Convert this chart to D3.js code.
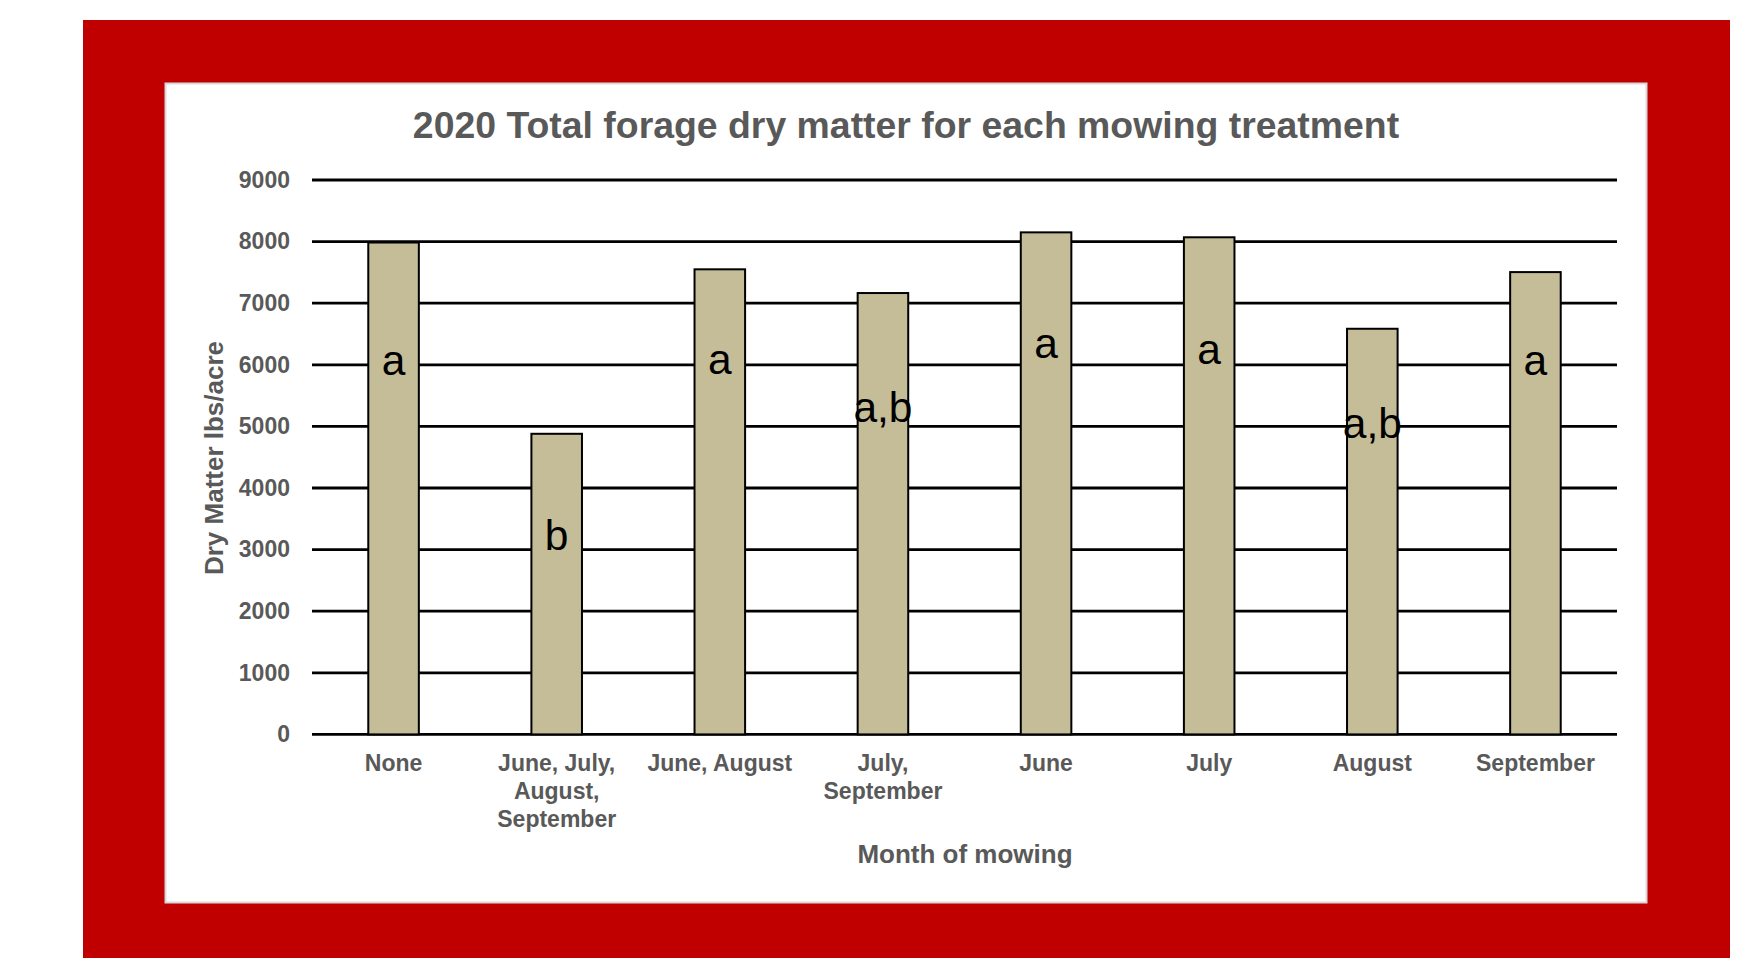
<!DOCTYPE html>
<html>
<head>
<meta charset="utf-8">
<script src="https://cdn.jsdelivr.net/npm/d3@7"></script>
<style>
  body { margin: 0; background: #fff; }
  text { font-family: "Liberation Sans", Arial, sans-serif; }
</style>
</head>
<body>
<svg id="mount" width="1759" height="958"></svg>
<script>
var colorFrame = "#C00000";
var colorBar = "#C4BD97";
var colorText = "#595959";

var categories = [
  "None",
  "June, July, August, September",
  "June, August",
  "July, September",
  "June",
  "July",
  "August",
  "September"
];
var dryMatter = [7985, 4880, 7550, 7165, 8150, 8070, 6585, 7505];
var letters = ["a", "b", "a", "a,b", "a", "a", "a,b", "a"];
// letter baselines, read in axis units
var letterLevel = [5835, 2995, 5845, 5075, 6105, 6010, 4805, 5835];
var yTicks = [0, 1000, 2000, 3000, 4000, 5000, 6000, 7000, 8000, 9000];

var svg = d3.select("#mount");

// red frame and white chart area
svg.append("rect")
  .attr("x", 83).attr("y", 20)
  .attr("width", 1647).attr("height", 960)
  .attr("fill", colorFrame);

svg.append("rect")
  .attr("x", 165.5).attr("y", 83.5)
  .attr("width", 1481).attr("height", 819)
  .attr("fill", "#fff")
  .attr("stroke", "#d9d9d9")
  .attr("stroke-width", 2);

var x = d3.scaleBand()
  .domain(categories)
  .range([312, 1617])
  .paddingInner(0.69)
  .paddingOuter(0.345);

var y = d3.scaleLinear()
  .domain([0, 9000])
  .range([734.4, 180]);

svg.append("text")
  .attr("x", 906)
  .attr("y", 138)
  .attr("text-anchor", "middle")
  .attr("fill", colorText)
  .style("font-size", "37.4px")
  .style("font-weight", "bold")
  .text("2020 Total forage dry matter for each mowing treatment");

// gridlines
svg.append("g")
  .selectAll("line")
  .data(yTicks)
  .join("line")
  .attr("x1", 312)
  .attr("x2", 1617)
  .attr("y1", function(d) { return y(d); })
  .attr("y2", function(d) { return y(d); })
  .attr("stroke", "#000")
  .attr("stroke-width", 2.8);

// y axis labels
var yAxis = svg.append("g")
  .attr("transform", "translate(312,0)")
  .call(d3.axisLeft(y).tickValues(yTicks).tickSize(0).tickPadding(22).tickFormat(d3.format("d")));
yAxis.select(".domain").remove();
yAxis.selectAll("text")
  .attr("fill", colorText)
  .style("font-size", "23px")
  .style("font-weight", "bold")
  .style("font-family", "'Liberation Sans', Arial, sans-serif");

// bars
svg.append("g")
  .selectAll("rect")
  .data(categories)
  .join("rect")
  .attr("x", function(d) { return x(d); })
  .attr("y", function(d, i) { return y(dryMatter[i]); })
  .attr("width", x.bandwidth())
  .attr("height", function(d, i) { return y(0) - y(dryMatter[i]); })
  .attr("fill", colorBar)
  .attr("stroke", "#000")
  .attr("stroke-width", 2);

// significance letters
svg.append("g")
  .selectAll("text")
  .data(categories)
  .join("text")
  .attr("x", function(d) { return x(d) + x.bandwidth() / 2; })
  .attr("y", function(d, i) { return y(letterLevel[i]); })
  .attr("text-anchor", "middle")
  .attr("fill", "#000")
  .style("font-size", "42.5px")
  .text(function(d, i) { return letters[i]; });

// x axis labels, wrapped to the band step
function wrap(textSel, width) {
  textSel.each(function() {
    var text = d3.select(this);
    var words = text.text().split(/\s+/);
    var xPos = text.attr("x");
    var line = [];
    var tspan = text.text(null).append("tspan").attr("x", xPos).attr("dy", 0);
    words.forEach(function(word) {
      line.push(word);
      tspan.text(line.join(" "));
      if (tspan.node().getComputedTextLength() > width && line.length > 1) {
        line.pop();
        tspan.text(line.join(" "));
        line = [word];
        tspan = text.append("tspan").attr("x", xPos).attr("dy", "1.2em").text(word);
      }
    });
  });
}

svg.append("g")
  .selectAll("text")
  .data(categories)
  .join("text")
  .attr("x", function(d) { return x(d) + x.bandwidth() / 2; })
  .attr("y", y(0) + 37)
  .attr("text-anchor", "middle")
  .attr("fill", colorText)
  .style("font-size", "23px")
  .style("font-weight", "bold")
  .text(function(d) { return d; })
  .call(wrap, x.step());

svg.append("text")
  .attr("x", 965)
  .attr("y", 863)
  .attr("text-anchor", "middle")
  .attr("fill", colorText)
  .style("font-size", "26px")
  .style("font-weight", "bold")
  .text("Month of mowing");

svg.append("text")
  .attr("transform", "translate(223,458) rotate(-90)")
  .attr("text-anchor", "middle")
  .attr("fill", colorText)
  .style("font-size", "26px")
  .style("font-weight", "bold")
  .text("Dry Matter lbs/acre");
</script>
</body>
</html>
